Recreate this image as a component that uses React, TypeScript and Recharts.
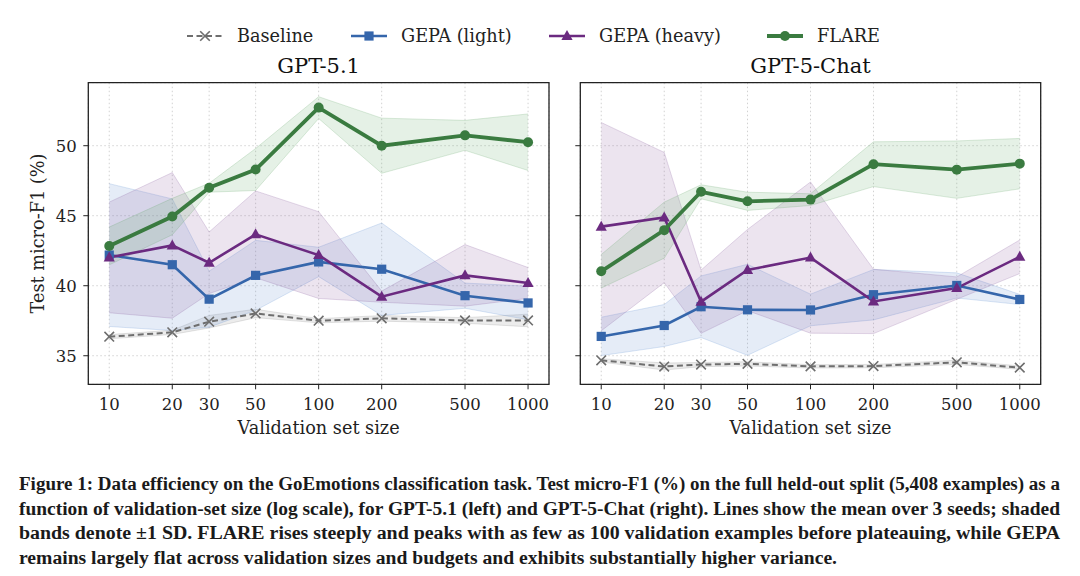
import React from "react"
import {
  ComposedChart,
  Line,
  Area,
  XAxis,
  YAxis,
  CartesianGrid,
  ReferenceArea,
} from "recharts"

const sizes = [10, 20, 30, 50, 100, 200, 500, 1000]
const xTicks = [10, 20, 30, 50, 100, 200, 500, 1000]
const yTicks = [35, 40, 45, 50]

// GPT-5.1 (left panel), mean and SD over 3 seeds
const gpt51Baseline = [36.36, 36.67, 37.43, 38.02, 37.5, 37.67, 37.52, 37.52]
const gpt51BaselineSd = [0.15, 0.15, 0.45, 0.3, 0.15, 0.2, 0.2, 0.45]
const gpt51Light = [42.19, 41.5, 39.04, 40.74, 41.7, 41.18, 39.29, 38.77]
const gpt51LightSd = [5.1, 4.7, 2.0, 2.5, 1.05, 3.3, 0.9, 1.2]
const gpt51Heavy = [42.02, 42.88, 41.64, 43.67, 42.19, 39.22, 40.74, 40.2]
const gpt51HeavySd = [3.95, 5.2, 2.2, 3.1, 3.1, 0.4, 2.2, 1.1]
const gpt51Flare = [42.84, 44.94, 47.0, 48.3, 52.72, 50.0, 50.74, 50.25]
const gpt51FlareSd = [1.35, 1.3, 0.32, 1.5, 0.78, 1.97, 1.07, 2.02]

// GPT-5-Chat (right panel)
const chatBaseline = [34.67, 34.23, 34.37, 34.42, 34.24, 34.26, 34.53, 34.15]
const chatBaselineSd = [0.12, 0.25, 0.15, 0.15, 0.12, 0.12, 0.15, 0.12]
const chatLight = [36.38, 37.16, 38.5, 38.28, 38.27, 39.36, 40.02, 39.02]
const chatLightSd = [1.37, 1.5, 2.2, 3.25, 1.13, 1.8, 0.9, 0.36]
const chatHeavy = [44.22, 44.87, 38.86, 41.12, 42.01, 38.88, 39.83, 42.07]
const chatHeavySd = [7.44, 4.65, 2.26, 2.9, 5.4, 2.3, 0.8, 1.2]
const chatFlare = [41.03, 43.97, 46.71, 46.03, 46.15, 48.68, 48.29, 48.72]
const chatFlareSd = [1.2, 2.0, 0.5, 0.65, 0.42, 1.6, 2.05, 1.8]

const seriesKeys = ["baseline", "light", "heavy", "flare"]
const seriesNames = ["Baseline", "GEPA (light)", "GEPA (heavy)", "FLARE"]
const panelTitles = ["GPT-5.1", "GPT-5-Chat"]

const captionLines = [
  "Figure 1: Data efficiency on the GoEmotions classification task. Test micro-F1 (%) on the full held-out split (5,408 examples) as a",
  "function of validation-set size (log scale), for GPT-5.1 (left) and GPT-5-Chat (right). Lines show the mean over 3 seeds; shaded",
  "bands denote \u00b11 SD. FLARE rises steeply and peaks with as few as 100 validation examples before plateauing, while GEPA",
  "remains largely flat across validation sizes and budgets and exhibits substantially higher variance.",
]

const styles: Record<string, any> = {
  baseline: { color: "#6e6e6e", band: "#8a8a8a", width: 2, dash: "6 3.5", marker: "x" },
  light: { color: "#3566ab", band: "#5b8bd0", width: 2.6, marker: "square" },
  heavy: { color: "#6b2a80", band: "#86589b", width: 2.6, marker: "triangle" },
  flare: { color: "#3a7b40", band: "#5ea563", width: 3.8, marker: "circle" },
}

const xDomain = [Math.pow(10, 0.9), Math.pow(10, 3.1)]
const yDomain = [32.96, 54.5]

const serif = "DejaVu Serif"
const PLOT_TOP = 82.7
const PLOT_BOTTOM = 384.3

function buildRows(means: number[][], sds: number[][]) {
  return sizes.map((n, i) => {
    const row: any = { n }
    seriesKeys.forEach((k, s) => {
      row[k] = means[s][i]
      row[k + "Band"] = [means[s][i] - sds[s][i], means[s][i] + sds[s][i]]
    })
    return row
  })
}

const leftRows = buildRows(
  [gpt51Baseline, gpt51Light, gpt51Heavy, gpt51Flare],
  [gpt51BaselineSd, gpt51LightSd, gpt51HeavySd, gpt51FlareSd]
)
const rightRows = buildRows(
  [chatBaseline, chatLight, chatHeavy, chatFlare],
  [chatBaselineSd, chatLightSd, chatHeavySd, chatFlareSd]
)

function marker(kind: string, color: string, cx: number, cy: number, key?: string) {
  if (kind === "circle") return <circle key={key} cx={cx} cy={cy} r={5} fill={color} />
  if (kind === "square")
    return <rect key={key} x={cx - 4.6} y={cy - 4.6} width={9.2} height={9.2} fill={color} />
  if (kind === "triangle")
    return (
      <polygon
        key={key}
        points={`${cx},${cy - 6} ${cx + 5.6},${cy + 4} ${cx - 5.6},${cy + 4}`}
        fill={color}
      />
    )
  return (
    <path
      key={key}
      d={`M${cx - 4.8},${cy - 4.8}L${cx + 4.8},${cy + 4.8}M${cx - 4.8},${cy + 4.8}L${cx + 4.8},${cy - 4.8}`}
      stroke={color}
      strokeWidth={1.6}
      fill="none"
    />
  )
}

function Panel({
  rows,
  width,
  yAxisWidth,
  marginRight,
  showYLabels,
}: {
  rows: any[]
  width: number
  yAxisWidth: number
  marginRight: number
  showYLabels: boolean
}) {
  return (
    <ComposedChart
      width={width}
      height={450}
      data={rows}
      margin={{ top: PLOT_TOP, right: marginRight, bottom: 0, left: 0 }}
    >
      <CartesianGrid stroke="#d2d2d2" strokeDasharray="1.5 2.5" />
      <XAxis
        dataKey="n"
        type="number"
        scale="log"
        domain={xDomain}
        ticks={xTicks}
        allowDataOverflow
        interval={0}
        axisLine={false}
        tickSize={5}
        tickMargin={9}
        height={450 - PLOT_BOTTOM}
        tickLine={{ stroke: "#222" }}
        tick={{ fontFamily: serif, fontSize: 16.5, fill: "#222" }}
      />
      <YAxis
        type="number"
        domain={yDomain}
        ticks={yTicks}
        allowDataOverflow
        interval={0}
        axisLine={false}
        tickSize={5}
        tickMargin={6.5}
        width={yAxisWidth}
        tickLine={{ stroke: "#222" }}
        tickFormatter={(v) => (showYLabels ? String(v) : "")}
        tick={{ fontFamily: serif, fontSize: 16.5, fill: "#222" }}
      />
      {seriesKeys.map((k) => (
        <Area
          key={k + "Band"}
          dataKey={k + "Band"}
          type="linear"
          fill={styles[k].band}
          fillOpacity={0.16}
          stroke={styles[k].band}
          strokeOpacity={0.22}
          strokeWidth={1}
          dot={false}
          activeDot={false}
          isAnimationActive={false}
        />
      ))}
      {seriesKeys.map((k) => (
        <Line
          key={k}
          dataKey={k}
          type="linear"
          stroke={styles[k].color}
          strokeWidth={styles[k].width}
          strokeDasharray={styles[k].dash}
          dot={(p: any) => marker(styles[k].marker, styles[k].color, p.cx, p.cy, `${k}-${p.index}`)}
          activeDot={false}
          isAnimationActive={false}
        />
      ))}
      <ReferenceArea
        x1={xDomain[0]}
        x2={xDomain[1]}
        y1={yDomain[0]}
        y2={yDomain[1]}
        fill="none"
        fillOpacity={0}
        stroke="#222"
        strokeWidth={1.3}
        ifOverflow="visible"
      />
    </ComposedChart>
  )
}

const legendIconX = [187, 351, 549, 767]
const panelCenters = [318.6, 810.5]

function Overlay() {
  return (
    <svg
      width={1080}
      height={576}
      style={{ position: "absolute", left: 0, top: 0, pointerEvents: "none" }}
    >
      {seriesKeys.map((k, i) => {
        const x0 = legendIconX[i]
        const st = styles[k]
        return (
          <g key={k}>
            <line
              x1={x0}
              x2={x0 + 36}
              y1={36}
              y2={36}
              stroke={st.color}
              strokeWidth={st.width}
              strokeDasharray={st.dash}
            />
            {marker(st.marker, st.color, x0 + 18, 36)}
            <text x={x0 + 50} y={42} fontFamily={serif} fontSize={17.7} fill="#222">
              {seriesNames[i]}
            </text>
          </g>
        )
      })}
      {panelTitles.map((t, i) => (
        <text
          key={t}
          x={panelCenters[i]}
          y={73.3}
          textAnchor="middle"
          fontFamily={serif}
          fontSize={21}
          fill="#111"
        >
          {t}
        </text>
      ))}
      {panelCenters.map((cx, i) => (
        <text
          key={"xl" + i}
          x={cx}
          y={434}
          textAnchor="middle"
          fontFamily={serif}
          fontSize={17.7}
          fill="#222"
        >
          Validation set size
        </text>
      ))}
      <text
        x={38}
        y={233.5}
        transform="rotate(-90 38 233.5)"
        textAnchor="middle"
        dominantBaseline="central"
        fontFamily={serif}
        fontSize={17.7}
        fill="#222"
      >
        Test micro-F1 (%)
      </text>
      {captionLines.map((line, i) => (
        <text
          key={"cap" + i}
          x={19}
          y={490 + i * 24.5}
          textLength={i < 3 ? 1041 : 818}
          lengthAdjust="spacingAndGlyphs"
          fontFamily="Liberation Serif"
          fontWeight={700}
          fontSize={18}
          fill="#1a1a1a"
        >
          {line}
        </text>
      ))}
    </svg>
  )
}

export default function App() {
  return (
    <div
      style={{
        position: "absolute",
        left: 0,
        top: 0,
        width: 1080,
        height: 576,
        background: "#ffffff",
        overflow: "hidden",
      }}
    >
      <div style={{ position: "absolute", left: 0, top: 0 }}>
        <Panel rows={leftRows} width={560} yAxisWidth={88.3} marginRight={11} showYLabels />
      </div>
      <div style={{ position: "absolute", left: 560, top: 0 }}>
        <Panel rows={rightRows} width={520} yAxisWidth={20.3} marginRight={39.3} showYLabels={false} />
      </div>
      <Overlay />
    </div>
  )
}
